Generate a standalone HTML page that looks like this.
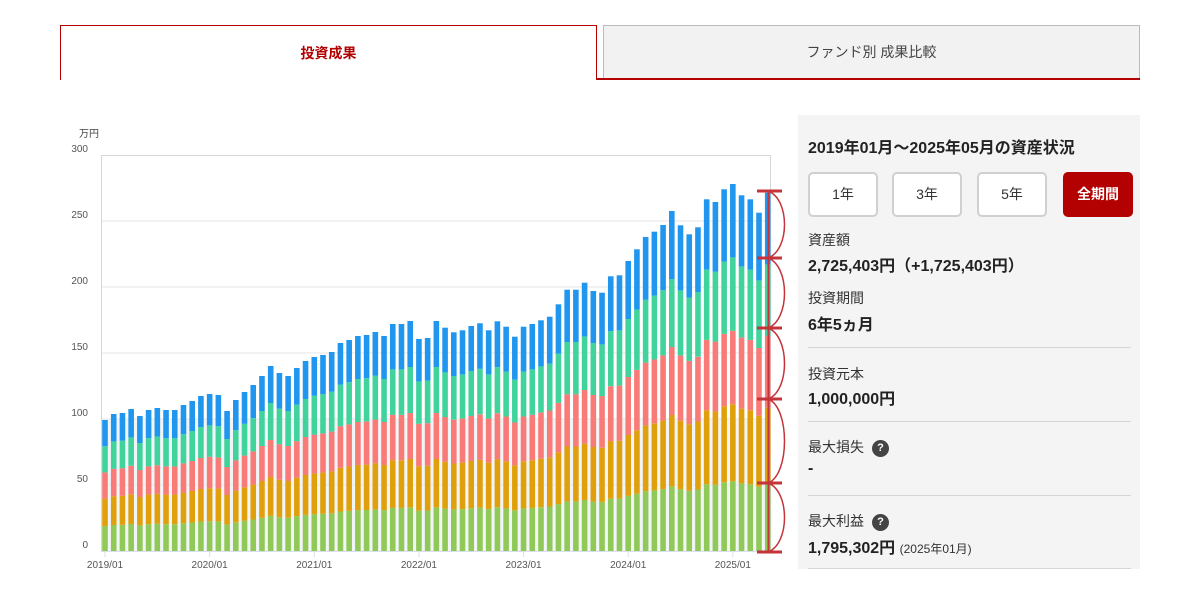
<!DOCTYPE html>
<html><head><meta charset="utf-8"><style>
body{margin:0;width:1200px;height:602px;background:#fff;position:relative;overflow:hidden;font-family:"Liberation Sans","Noto Sans CJK JP",sans-serif;color:#222}
.a{position:absolute;white-space:nowrap}
.btn{position:absolute;top:172px;width:66px;height:41px;border:2px solid #d0d0d0;border-radius:5px;background:#fff;font-size:14px;color:#333;text-align:center;line-height:41px}
.lbl{position:absolute;left:808px;font-size:14px;color:#333}
.val{position:absolute;left:808px;font-size:16px;font-weight:bold;color:#222}
.hr{position:absolute;left:808px;width:323px;height:1px;background:#d6d6d6}
.q{display:inline-block;width:17px;height:17px;border-radius:50%;background:#444;color:#fff;font-size:11px;font-weight:bold;text-align:center;line-height:17px;margin-left:8px;vertical-align:1px}
</style></head><body>
<div class="a" style="left:60px;top:25px;width:535px;height:54px;border:1px solid #b30000;border-bottom:none;background:#fff;text-align:center;line-height:54px;font-size:14px;font-weight:bold;color:#b30000">投資成果</div>
<div class="a" style="left:603px;top:25px;width:535px;height:52px;border:1px solid #bbb;border-bottom:none;background:#f2f2f2;text-align:center;line-height:52px;font-size:14px;color:#444">ファンド別 成果比較</div>
<div class="a" style="left:597px;top:78px;width:543px;height:2px;background:#b30000"></div>

<div class="a" style="left:798px;top:115px;width:342px;height:454px;background:#f4f4f4"></div>
<div class="a" style="left:808px;top:134px;font-size:16px;font-weight:bold;color:#222">2019年01月～2025年05月の資産状況</div>
<div class="btn" style="left:808px">1年</div>
<div class="btn" style="left:892px">3年</div>
<div class="btn" style="left:977px">5年</div>
<div class="btn" style="left:1063px;background:#b30000;border-color:#b30000;color:#fff;font-weight:bold">全期間</div>
<div class="lbl" style="top:230px">資産額</div>
<div class="val" style="top:252px">2,725,403円（+1,725,403円）</div>
<div class="lbl" style="top:288px">投資期間</div>
<div class="val" style="top:311px">6年5ヵ月</div>
<div class="hr" style="top:347px"></div>
<div class="lbl" style="top:364px">投資元本</div>
<div class="val" style="top:385px">1,000,000円</div>
<div class="hr" style="top:421px"></div>
<div class="lbl" style="top:437px">最大損失<span class="q">?</span></div>
<div class="val" style="top:460px">-</div>
<div class="hr" style="top:495px"></div>
<div class="lbl" style="top:511px">最大利益<span class="q">?</span></div>
<div class="val" style="top:534px">1,795,302円 <span style="font-size:12px;font-weight:normal;color:#333">(2025年01月)</span></div>
<div class="hr" style="top:568px"></div>

<svg class="a" style="left:0;top:0" width="800" height="602" id="c"></svg>
<script>
var tops=[420,414,413,409,416,410,408,410,410,405,401,396,394,395,411,400,392,385,376,366,373,376,368,361,357,355,352,343,340,336,335,332,336,324,324,321,339,338,321,
327.7,332.3,330.3,326,323.3,330.3,321.3,326.7,336.7,326.7,324,320.3,316.7,304.3,289.7,289.7,282.7,291,292.7,276.3,275.3,261,249.3,237,231.7,225,
211,225.3,234.3,227.3,199.3,202,189.3,184,195.3,199.3,212.7,192.7];
var s='';
s+='<text x="79" y="137" font-size="10" fill="#444">万円</text>';
s+='<rect x="101" y="419" width="670" height="132" fill="#f2f5f8"/>';
for(var v=0;v<=300;v+=50){var y=551-v*1.32;
 s+='<text x="88" y="'+(y-3)+'" font-size="10" fill="#555" text-anchor="end">'+v+'</text>';
 if(v>0&&v<300)s+='<line x1="101" x2="771" y1="'+y+'" y2="'+y+'" stroke="#e6e6e6"/>';}
s+='<path d="M101.5 551V155.5H770.5V551" fill="none" stroke="#d6d6d6"/>';
s+='<line x1="101" x2="771" y1="551.5" y2="551.5" stroke="#d8def0"/>';
var cols=['#90c957','#e0a00c','#f97b78','#41d39c','#2196ef'],cum=[0,.19,.40,.60,.80,1];
for(var i=0;i<77;i++){var x=105+i*8.72-2.8,h=551-tops[i];
 for(var k=0;k<5;k++){var y0=551-h*cum[k+1],y1=551-h*cum[k];
  s+='<rect x="'+x.toFixed(2)+'" y="'+y0.toFixed(1)+'" width="5.6" height="'+(y1-y0).toFixed(1)+'" fill="'+cols[k]+'"/>';}}
for(var yr=0;yr<7;yr++){var x=105+yr*12*8.72;
 s+='<line x1="'+x+'" x2="'+x+'" y1="551" y2="557" stroke="#d8def0"/>';
 s+='<text x="'+x+'" y="568" font-size="10" fill="#555" text-anchor="middle">'+(2019+yr)+'/01</text>';}
var tk=[191,258,328,399,483,552];
s+='<line x1="768.5" x2="768.5" y1="191" y2="552" stroke="#c4343a" stroke-width="2"/>';
var p='';
for(var j=0;j<5;j++){p+='M768 '+tk[j]+' C790 '+(tk[j]+8)+' 790 '+(tk[j+1]-8)+' 768 '+tk[j+1]+' ';}
s+='<path d="'+p+'" fill="none" stroke="#c4343a" stroke-width="1.5"/>';
for(var j=0;j<6;j++)s+='<line x1="757" x2="782" y1="'+tk[j]+'" y2="'+tk[j]+'" stroke="#c4343a" stroke-width="3"/>';
document.getElementById('c').innerHTML=s;
</script>
</body></html>
